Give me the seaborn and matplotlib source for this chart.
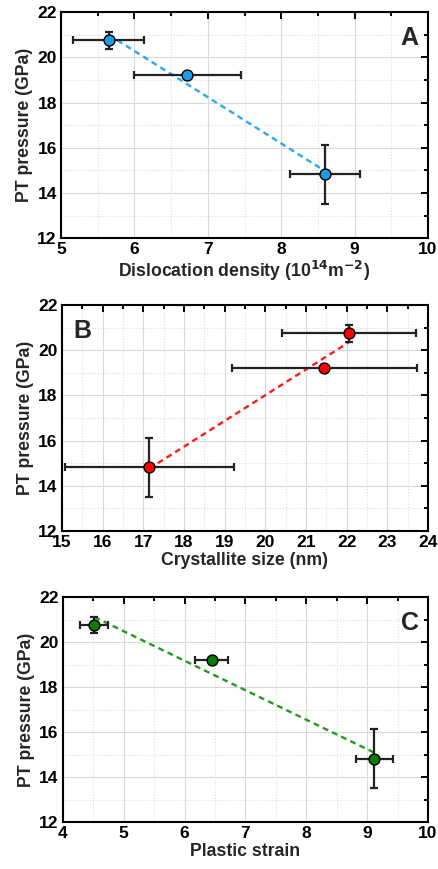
import numpy as np
import pandas as pd
import matplotlib
matplotlib.use("Agg")
import matplotlib.pyplot as plt
import seaborn as sns
from matplotlib.ticker import MultipleLocator

# PT pressure (shared by all panels)
pressure = [20.75, 19.2, 14.82]
pressure_err = [0.37, 0.0, 1.3]

# Panel A: dislocation density
dislocation = [5.65, 6.72, 8.6]
dislocation_err = [0.48, 0.73, 0.48]

# Panel B: crystallite size
crystallite = [22.05, 21.45, 17.15]
crystallite_err = [1.65, 2.27, 2.07]

# Panel C: plastic strain
strain = [4.52, 6.45, 9.12]
strain_err = [0.23, 0.27, 0.3]

sns.set_style("white")
plt.rcParams["font.family"] = ["Liberation Sans", "DejaVu Sans"]
plt.rcParams["font.weight"] = "bold"
plt.rcParams["mathtext.default"] = "bf"

fig = plt.figure(figsize=(4.39, 8.69), dpi=100)

panels = [
    # x, xerr, xlabel, color, line color, xlim, letter, letter pos, rect
    (dislocation, dislocation_err, "Dislocation density (10$^{14}$m$^{-2}$)",
     "#1e9be8", "#2aa6f2", (5, 10), "A", (0.975, 0.94), "right",
     [0.139, 0.726, 0.836, 0.260]),
    (crystallite, crystallite_err, "Crystallite size (nm)",
     "#ff0000", "#ff1a1a", (15, 24), "B", (0.03, 0.94), "left",
     [0.141, 0.389, 0.834, 0.260]),
    (strain, strain_err, "Plastic strain",
     "#0d7a0d", "#1f9a1f", (4, 10), "C", (0.975, 0.94), "right",
     [0.143, 0.054, 0.832, 0.259]),
]

for x, xerr, xlabel, color, lcolor, xlim, letter, lpos, ha, rect in panels:
    ax = fig.add_axes(rect)
    df = pd.DataFrame({"x": x, "y": pressure})

    # dashed linear fit
    sns.regplot(data=df, x="x", y="y", ax=ax, scatter=False, ci=None,
                truncate=True,
                line_kws=dict(color=lcolor, linestyle=(0, (2.5, 1.8)), linewidth=1.7, zorder=2))

    ax.errorbar(x, pressure, xerr=xerr, yerr=pressure_err, fmt="none",
                ecolor="#222222", elinewidth=1.6, capsize=3, capthick=1.6, zorder=3)

    sns.scatterplot(data=df, x="x", y="y", ax=ax, color=color, s=62,
                    edgecolor="black", linewidth=1.0, zorder=4)

    ax.set_xlim(*xlim)
    ax.set_ylim(12, 22)
    ax.xaxis.set_major_locator(MultipleLocator(1))
    ax.xaxis.set_minor_locator(MultipleLocator(0.5))
    ax.yaxis.set_major_locator(MultipleLocator(2))
    ax.yaxis.set_minor_locator(MultipleLocator(1))
    ax.grid(True, which="major", color="#d9d9d9", linewidth=0.8)
    ax.grid(True, which="minor", color="#dddddd", linewidth=0.8, linestyle=":")
    ax.set_axisbelow(True)
    ax.tick_params(which="both", direction="in", top=True, right=True,
                   labelsize=12.5, width=1.4, colors="black", pad=3)
    ax.tick_params(which="major", length=5)
    ax.tick_params(which="minor", length=3)
    for lbl in ax.get_xticklabels() + ax.get_yticklabels():
        lbl.set_fontweight("bold")
    for sp in ax.spines.values():
        sp.set_visible(True)
        sp.set_color("black")
        sp.set_linewidth(1.5)

    ax.set_xlabel(xlabel, fontsize=12.7, fontweight="bold", labelpad=1)
    ax.set_ylabel("PT pressure (GPa)", fontsize=12.7, fontweight="bold", labelpad=3)
    ax.text(lpos[0], lpos[1], letter, transform=ax.transAxes, ha=ha, va="top",
            fontsize=18, fontweight="bold")

fig.savefig("out.png", dpi=100)
